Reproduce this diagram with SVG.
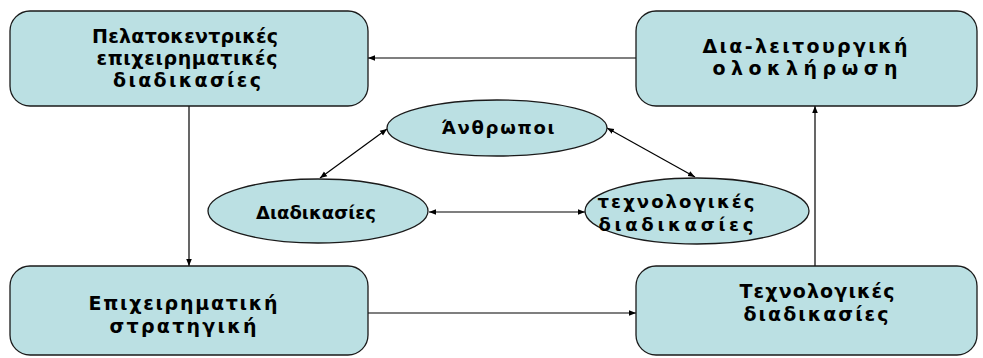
<svg xmlns="http://www.w3.org/2000/svg" width="983" height="358" viewBox="0 0 983 358">
<defs>
<marker id="ah" viewBox="0 0 10 10" refX="10" refY="5" markerWidth="7" markerHeight="7" orient="auto-start-reverse" markerUnits="userSpaceOnUse">
<path d="M0,1 L10,5 L0,9 z" fill="#000"/>
</marker>
<style>
.box{fill:#BBE0E3;stroke:#1a1a1a;stroke-width:1.3}
.t{font-family:"DejaVu Sans",Verdana,sans-serif;font-weight:bold;font-size:19px;fill:#000;text-anchor:middle}
.te{font-family:"DejaVu Sans",Verdana,sans-serif;font-weight:bold;font-size:18px;fill:#000;text-anchor:middle}
.c{stroke:#000;stroke-width:1.2;fill:none}
</style>
</defs>
<rect width="983" height="358" fill="#fff"/>
<g id="connectors">
<line class="c" x1="636" y1="58" x2="368" y2="58" marker-end="url(#ah)"/>
<line class="c" x1="189" y1="106" x2="189" y2="266" marker-end="url(#ah)"/>
<line class="c" x1="368" y1="313" x2="636" y2="313" marker-end="url(#ah)"/>
<line class="c" x1="815" y1="266" x2="815" y2="106" marker-end="url(#ah)"/>
<line class="c" x1="387" y1="129" x2="320" y2="178" marker-start="url(#ah)" marker-end="url(#ah)"/>
<line class="c" x1="607" y1="128" x2="695" y2="177" marker-start="url(#ah)" marker-end="url(#ah)"/>
<line class="c" x1="429" y1="212" x2="585" y2="212" marker-start="url(#ah)" marker-end="url(#ah)"/>
</g>
<g id="n1">
<rect class="box" x="10" y="11" width="358" height="95" rx="20"/>
<text class="t" x="185" y="43" textLength="186" lengthAdjust="spacing">Πελατοκεντρικές</text>
<text class="t" x="187" y="65" textLength="181" lengthAdjust="spacing">επιχειρηματικές</text>
<text class="t" x="187" y="87" textLength="148" lengthAdjust="spacing">διαδικασίες</text>
</g>
<g id="n2">
<rect class="box" x="636" y="11" width="341" height="95" rx="20"/>
<text class="t" x="805" y="53" textLength="205" lengthAdjust="spacing">Δια-λειτουργική</text>
<text class="t" x="805" y="75" textLength="185" lengthAdjust="spacing">ολοκλήρωση</text>
</g>
<g id="n3">
<rect class="box" x="10" y="266" width="358" height="89" rx="20"/>
<text class="t" x="183" y="310" textLength="189" lengthAdjust="spacing">Επιχειρηματική</text>
<text class="t" x="183" y="333" textLength="147" lengthAdjust="spacing">στρατηγική</text>
</g>
<g id="n4">
<rect class="box" x="636" y="266" width="341" height="89" rx="20"/>
<text class="t" x="817" y="298" textLength="155" lengthAdjust="spacing">Τεχνολογικές</text>
<text class="t" x="816" y="321" textLength="145" lengthAdjust="spacing">διαδικασίες</text>
</g>
<g id="e1">
<ellipse class="box" cx="497" cy="128" rx="110" ry="28"/>
<text class="te" x="498" y="134" textLength="113" lengthAdjust="spacing">Άνθρωποι</text>
</g>
<g id="e2">
<ellipse class="box" cx="318" cy="211" rx="110" ry="32"/>
<text class="te" x="316" y="219" textLength="120" lengthAdjust="spacing">Διαδικασίες</text>
</g>
<g id="e3">
<ellipse class="box" cx="697" cy="211" rx="112" ry="33"/>
<text class="te" x="676" y="208" textLength="157" lengthAdjust="spacing">τεχνολογικές</text>
<text class="te" x="676" y="231" textLength="155" lengthAdjust="spacing">διαδικασίες</text>
</g>
</svg>
